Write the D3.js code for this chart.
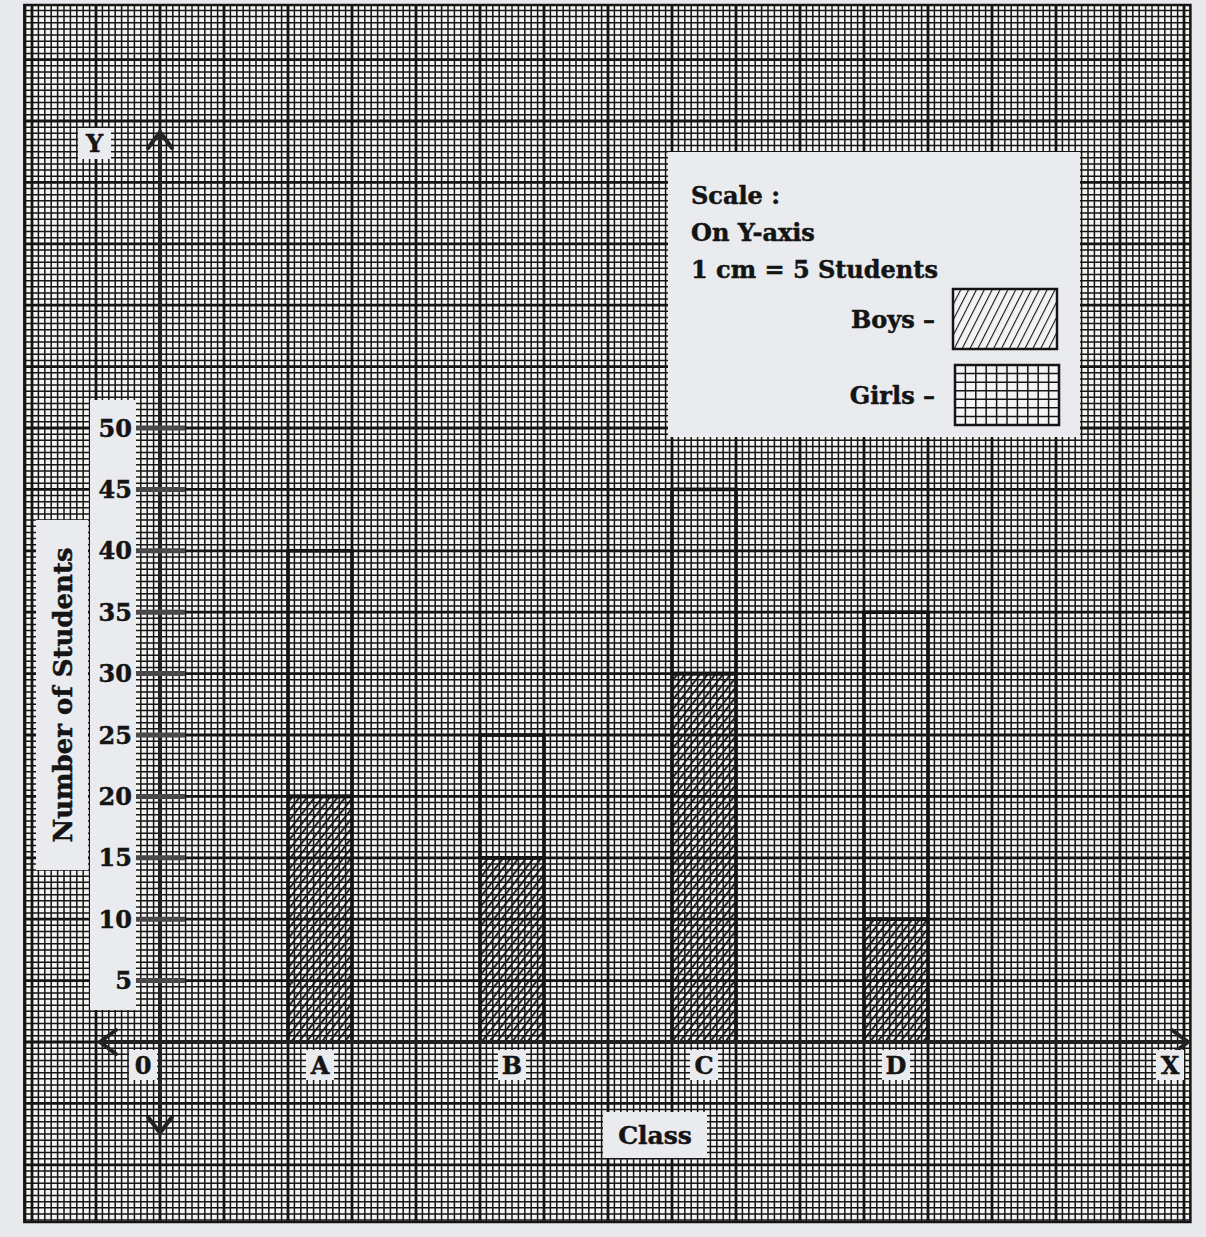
<!DOCTYPE html>
<html>
<head>
<meta charset="utf-8">
<title>Number of Students by Class</title>
<script src="https://cdn.jsdelivr.net/npm/d3@7"></script>
<style>
  body { margin: 0; background: #e7e9ec; }
  svg text { font-family: 'DejaVu Serif', serif; font-weight: bold; fill: #141414;
             stroke: #141414; stroke-width: 0.5px; }
</style>
</head>
<body>
<svg id="chart"></svg>
<script>
// data
const classes = ["A", "B", "C", "D"]
const boys = [20, 15, 30, 10]
const girls = [20, 10, 15, 25]
const yTicks = [5, 10, 15, 20, 25, 30, 35, 40, 45, 50]
const scaleLines = ["Scale :", "On Y-axis", "1 cm = 5 Students"]
const legendKeys = ["Boys", "Girls"]

const width = 1206
const height = 1237
const paperBg = "#f3f3f1"
const boxBg = "#e9ebee"
const ink = "#141414"

const svg = d3.select("#chart").attr("width", width).attr("height", height)

// x in cm of graph paper, y in students (1 cm = 5 students)
const xcm = d3.scaleLinear().domain([-2, 16]).range([32, 32 + 18 * 64])
const y = d3.scaleLinear().domain([0, 50]).range([1042, 428])
const x = d3.scaleBand().domain(classes).range([xcm(0), xcm(14)])
  .paddingInner(2 / 3).paddingOuter(2 / 3)

const paper = {x0: xcm(-2.12), x1: xcm(16.1), y0: 5, y1: 1222}

// ---- patterns
const defs = svg.append("defs")
defs.append("clipPath").attr("id", "paper-clip")
  .append("rect")
  .attr("x", paper.x0).attr("y", paper.y0)
  .attr("width", paper.x1 - paper.x0).attr("height", paper.y1 - paper.y0)

const hatch = defs.append("pattern")
  .attr("id", "hatch")
  .attr("patternUnits", "userSpaceOnUse")
  .attr("width", 6).attr("height", 6)
  .attr("patternTransform", "rotate(38)")
hatch.append("line")
  .attr("x1", 0).attr("y1", 0).attr("x2", 0).attr("y2", 6)
  .attr("stroke", ink).attr("stroke-width", 3.6)

const hatchKey = defs.append("pattern")
  .attr("id", "hatch-key")
  .attr("patternUnits", "userSpaceOnUse")
  .attr("width", 7).attr("height", 7)
  .attr("patternTransform", "rotate(27)")
hatchKey.append("rect").attr("width", 7).attr("height", 7).attr("fill", "#f4f4f4")
hatchKey.append("line")
  .attr("x1", 0).attr("y1", 0).attr("x2", 0).attr("y2", 7)
  .attr("stroke", ink).attr("stroke-width", 2.2)

// ---- graph paper
svg.append("rect")
  .attr("x", paper.x0).attr("y", paper.y0)
  .attr("width", paper.x1 - paper.x0).attr("height", paper.y1 - paper.y0)
  .attr("fill", paperBg)

const grid = svg.append("g").attr("clip-path", "url(#paper-clip)")
const vx = d3.range(-22, 162).map(d => d / 10)
const hy = d3.range(-30, 170).map(d => d / 2)

grid.selectAll("line.v").data(vx).join("line")
  .attr("class", "v")
  .attr("x1", d => xcm(d)).attr("x2", d => xcm(d))
  .attr("y1", paper.y0).attr("y2", paper.y1)
  .attr("stroke", ink)
  .attr("stroke-width", d => Math.abs(d - Math.round(d)) < 1e-6 ? 2.8 : 1.5)

grid.selectAll("line.h").data(hy).join("line")
  .attr("class", "h")
  .attr("y1", d => y(d)).attr("y2", d => y(d))
  .attr("x1", paper.x0).attr("x2", paper.x1)
  .attr("stroke", ink)
  .attr("stroke-width", d => d % 5 === 0 ? 2.8 : 1.5)

svg.append("rect")
  .attr("x", paper.x0).attr("y", paper.y0)
  .attr("width", paper.x1 - paper.x0).attr("height", paper.y1 - paper.y0)
  .attr("fill", "none").attr("stroke", ink).attr("stroke-width", 2.5)

// ---- white label boxes cut into the paper
const box = (x0, y0, w, h) => svg.append("rect")
  .attr("x", x0).attr("y", y0).attr("width", w).attr("height", h)
  .attr("fill", boxBg)

box(90, 400, 46, 610)          // tick label strip
box(36, 520, 52, 350)          // y title
box(78, 128, 33, 31)           // Y
box(668, 152, 412, 285)        // scale / legend

// ---- bars
const bars = svg.append("g")
classes.forEach((c, i) => {
  bars.append("rect")
    .attr("x", x(c)).attr("width", x.bandwidth())
    .attr("y", y(boys[i])).attr("height", y(0) - y(boys[i]))
    .attr("fill", "url(#hatch)")
    .attr("stroke", ink).attr("stroke-width", 3.6)
  bars.append("rect")
    .attr("x", x(c)).attr("width", x.bandwidth())
    .attr("y", y(boys[i] + girls[i])).attr("height", y(boys[i]) - y(boys[i] + girls[i]))
    .attr("fill", "none")
    .attr("stroke", ink).attr("stroke-width", 3.6)
})

// ---- axes
const ox = xcm(0), oy = y(0)
const axis = svg.append("g").attr("stroke", "#222").attr("fill", "none")
  .attr("stroke-width", 4).attr("stroke-linecap", "round")
axis.append("line").attr("x1", ox).attr("x2", ox).attr("y1", 132).attr("y2", 1133)
axis.append("line").attr("x1", 100).attr("x2", 1188).attr("y1", oy).attr("y2", oy)
axis.append("path").attr("d", `M${ox - 12},${148} L${ox},${132} L${ox + 12},${148}`)
axis.append("path").attr("d", `M${ox - 12},${1117} L${ox},${1133} L${ox + 12},${1117}`)
axis.append("path").attr("d", `M${116},${oy - 12} L${100},${oy} L${116},${oy + 12}`)
axis.append("path").attr("d", `M${1172},${oy - 12} L${1188},${oy} L${1172},${oy + 12}`)

const yAxis = svg.append("g")
yAxis.selectAll("line").data(yTicks).join("line")
  .attr("x1", ox - 24).attr("x2", ox + 25)
  .attr("y1", d => y(d)).attr("y2", d => y(d))
  .attr("stroke", "#484848").attr("stroke-width", 5)
yAxis.selectAll("text").data(yTicks).join("text")
  .attr("x", 132).attr("y", d => y(d))
  .attr("dy", "0.36em")
  .attr("text-anchor", "end")
  .style("font-size", "24px")
  .text(d => d)

svg.append("text")
  .attr("transform", `translate(72, 695) rotate(-90)`)
  .attr("text-anchor", "middle")
  .style("font-size", "26px")
  .text("Number of Students")

svg.append("text").attr("x", 94.5).attr("y", 143.5).attr("dy", "0.36em")
  .attr("text-anchor", "middle").style("font-size", "24px").text("Y")

// x labels in small boxes
const xlab = svg.append("g")
const labelled = [{t: "0", cx: 143}]
  .concat(classes.map(c => ({t: c, cx: x(c) + x.bandwidth() / 2})))
  .concat([{t: "X", cx: 1170}])
labelled.forEach(d => {
  xlab.append("rect")
    .attr("x", d.cx - 14).attr("y", 1050).attr("width", 28).attr("height", 30)
    .attr("fill", boxBg)
  xlab.append("text")
    .attr("x", d.cx).attr("y", 1065).attr("dy", "0.36em")
    .attr("text-anchor", "middle").style("font-size", "24px")
    .text(d.t)
})

box(603, 1112, 104, 46)
svg.append("text").attr("x", 655).attr("y", 1135).attr("dy", "0.36em")
  .attr("text-anchor", "middle").style("font-size", "25px").text("Class")

// ---- scale note and legend
svg.append("g").selectAll("text").data(scaleLines).join("text")
  .attr("x", 691).attr("y", (d, i) => 195 + i * 37).attr("dy", "0.36em")
  .style("font-size", "24px")
  .text(d => d)

const legend = svg.append("g")
legendKeys.forEach((k, i) => {
  const ly = 319 + i * 76
  legend.append("text")
    .attr("x", 935).attr("y", ly).attr("dy", "0.36em")
    .attr("text-anchor", "end").style("font-size", "24px")
    .text(`${k} –`)
  const sx = 953 + i * 2, sy = ly - 30, sw = 104, sh = 60
  if (k === "Boys") {
    legend.append("rect")
      .attr("x", sx).attr("y", sy).attr("width", sw).attr("height", sh)
      .attr("fill", "url(#hatch-key)").attr("stroke", ink).attr("stroke-width", 2.5)
  } else {
    legend.append("rect")
      .attr("x", sx).attr("y", sy).attr("width", sw).attr("height", sh)
      .attr("fill", "#f4f4f4")
    const gx = d3.scaleLinear().domain([0, 10]).range([sx, sx + sw])
    const gy = d3.scaleLinear().domain([0, 7]).range([sy, sy + sh])
    legend.selectAll(null).data(d3.range(1, 10)).join("line")
      .attr("x1", d => gx(d)).attr("x2", d => gx(d)).attr("y1", sy).attr("y2", sy + sh)
      .attr("stroke", ink).attr("stroke-width", 1.5)
    legend.selectAll(null).data(d3.range(1, 7)).join("line")
      .attr("y1", d => gy(d)).attr("y2", d => gy(d)).attr("x1", sx).attr("x2", sx + sw)
      .attr("stroke", ink).attr("stroke-width", 1.5)
    legend.append("rect")
      .attr("x", sx).attr("y", sy).attr("width", sw).attr("height", sh)
      .attr("fill", "none").attr("stroke", ink).attr("stroke-width", 2.5)
  }
})
</script>
</body>
</html>
